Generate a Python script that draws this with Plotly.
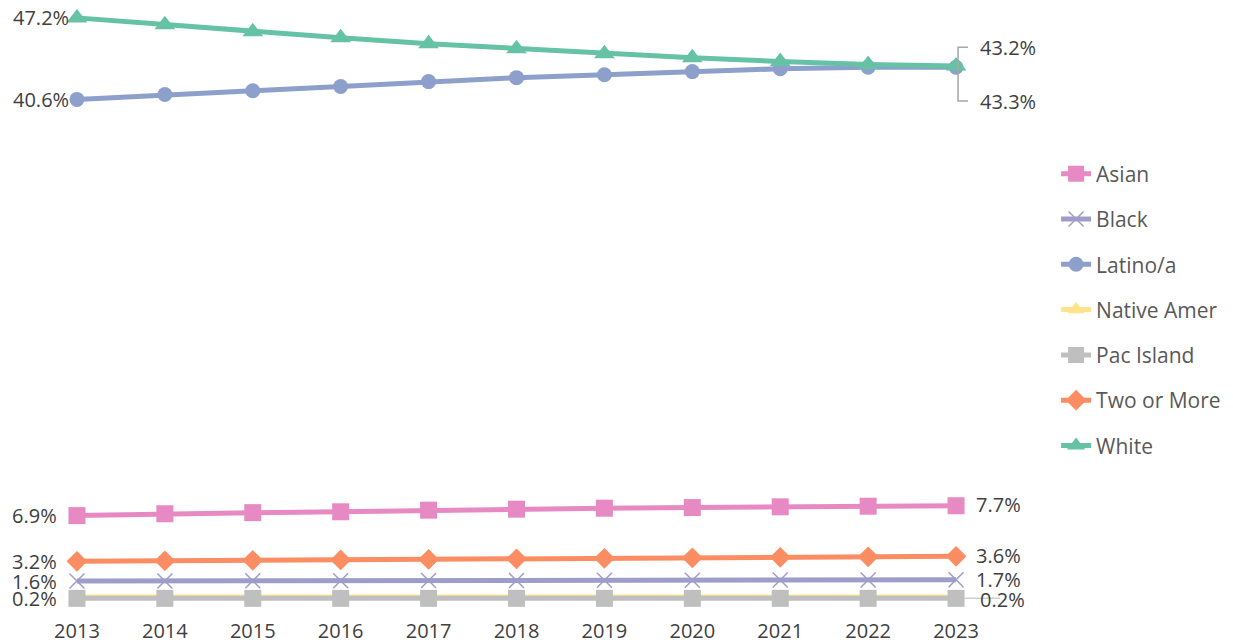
import plotly.graph_objects as go

years = list(range(2013, 2024))
asian = [6.9, 7.05, 7.14, 7.21, 7.34, 7.42, 7.5, 7.55, 7.61, 7.66, 7.7]
black = [1.6, 1.61, 1.62, 1.63, 1.64, 1.65, 1.66, 1.67, 1.68, 1.69, 1.7]
latino = [40.6, 41.0, 41.3, 41.65, 42.04, 42.36, 42.6, 42.85, 43.08, 43.2, 43.2]
native = [0.3, 0.3, 0.3, 0.3, 0.3, 0.3, 0.3, 0.3, 0.3, 0.3, 0.3]
pac = [0.2, 0.2, 0.2, 0.2, 0.2, 0.2, 0.2, 0.2, 0.2, 0.2, 0.2]
two_more = [3.2, 3.24, 3.28, 3.31, 3.35, 3.4, 3.44, 3.48, 3.52, 3.56, 3.6]
white = [47.2, 46.64, 46.07, 45.59, 45.1, 44.7, 44.3, 43.98, 43.66, 43.42, 43.3]

series = [
    ("Asian", asian, "#E78AC3", "square", 17),
    ("Black", black, "#A09CC9", "x-thin", 15),
    ("Latino/a", latino, "#8DA0CB", "circle", 15),
    ("Native Amer", native, "#FFE38A", "triangle-up", 15),
    ("Pac Island", pac, "#BFBFBF", "square", 17),
    ("Two or More", two_more, "#FC8D62", "diamond", 16),
    ("White", white, "#66C2A5", "triangle-up", 18),
]

FONT = "Open Sans"
TXT = "#404040"
LBL = 20

fig = go.Figure()
for name, vals, color, sym, size in series:
    mline = dict(width=1.5, color=color) if sym == "x-thin" else dict(width=0)
    fig.add_trace(go.Scatter(
        x=years, y=vals, name=name, mode="lines+markers",
        line=dict(color=color, width=5),
        marker=dict(symbol=sym, size=size, color=color, line=mline),
        legendgroup=name, cliponaxis=False,
    ))

def label(x, y, anchor, xshift, yshift=0):
    fig.add_annotation(x=x, y=y, text=f"{y:.1f}%", showarrow=False,
                       xanchor=anchor, yanchor="middle", xshift=xshift, yshift=yshift,
                       font=dict(family=FONT, size=LBL, color=TXT))

# left labels
label(years[0], white[0], "right", -6)
label(years[0], latino[0], "right", -6)
label(years[0], asian[0], "right", -18)
label(years[0], two_more[0], "right", -18)
label(years[0], black[0], "right", -18)
label(years[0], pac[0], "right", -18)
# right labels
label(years[-1], asian[-1], "left", 18, 1)
label(years[-1], two_more[-1], "left", 18, 1)
label(years[-1], black[-1], "left", 18, 0)
label(years[-1], pac[-1], "left", 22, -1)
label(years[-1], latino[-1], "left", 22, 20)
label(years[-1], white[-1], "left", 22, -35)

# leader lines
lead = dict(color="#A6A6A6", width=1.5)
fig.add_shape(type="path", xref="x", yref="y", xsizemode="pixel", ysizemode="pixel",
              xanchor=years[-1], yanchor=latino[-1],
              path="M 12,20 L 2,20 L 2,0", line=lead)
fig.add_shape(type="path", xref="x", yref="y", xsizemode="pixel", ysizemode="pixel",
              xanchor=years[-1], yanchor=white[-1],
              path="M 12,-35 L 2,-35 L 2,0", line=lead)
fig.add_shape(type="path", xref="x", yref="y", xsizemode="pixel", ysizemode="pixel",
              xanchor=years[-1], yanchor=pac[-1],
              path="M 8,0 L 44,0", line=dict(color="#D0D0D0", width=1.5), layer="below")

fig.update_layout(
    width=1233, height=644,
    margin=dict(l=25, r=241, t=0, b=45),
    paper_bgcolor="white", plot_bgcolor="white",
    showlegend=True,
    legend=dict(x=1.058, y=0.757, xanchor="left", yanchor="top",
                font=dict(family=FONT, size=21, color="#595959"),
                tracegroupgap=15, bgcolor="rgba(0,0,0,0)"),
    xaxis=dict(range=[2012.5, 2023.5], tickmode="array", tickvals=years,
               ticktext=[str(y) for y in years], showgrid=False, zeroline=False,
               showline=False, ticks="", ticklabelstandoff=10,
               tickfont=dict(family=FONT, size=LBL, color=TXT)),
    yaxis=dict(range=[-0.5, 48], showgrid=False, zeroline=False, showline=False,
               showticklabels=False, ticks=""),
)

fig.write_html("out.html")
